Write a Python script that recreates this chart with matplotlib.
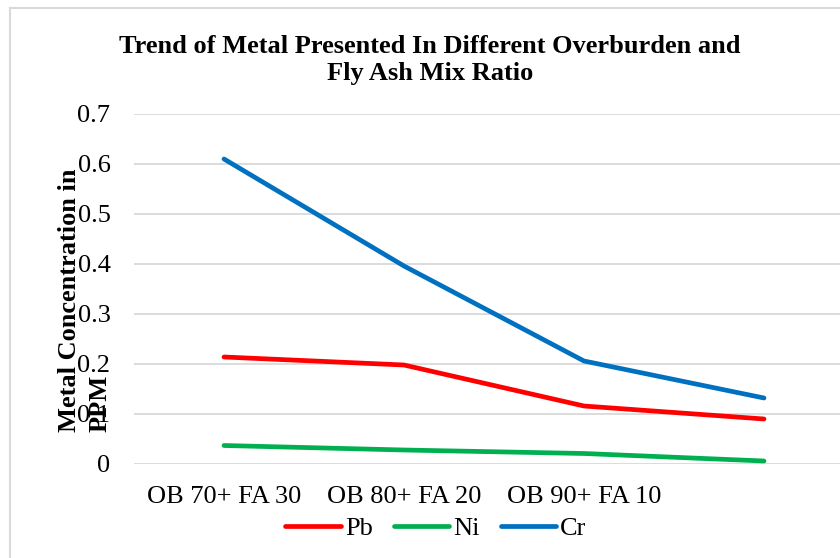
import matplotlib
matplotlib.use("Agg")
import matplotlib.pyplot as plt
from matplotlib.lines import Line2D

categories = ["OB 70+ FA 30", "OB 80+ FA 20", "OB 90+ FA 10", ""]
pb = [0.214, 0.198, 0.116, 0.090]
ni = [0.037, 0.028, 0.021, 0.006]
cr = [0.610, 0.396, 0.206, 0.132]
yticks = [0, 0.1, 0.2, 0.3, 0.4, 0.5, 0.6, 0.7]
ytick_labels = ["0", "0.1", "0.2", "0.3", "0.4", "0.5", "0.6", "0.7"]

plt.rcParams['font.family'] = ['Liberation Serif', 'DejaVu Serif']

W, H = 840, 558
fig = plt.figure(figsize=(W / 100, H / 100), dpi=100)
fig.patch.set_facecolor("white")

# chart frame (left and top visible)
fig.add_artist(Line2D([9.5 / W, 9.5 / W], [0, 1 - 7.5 / H], color="#D9D9D9", lw=1.5, transform=fig.transFigure))
fig.add_artist(Line2D([9.5 / W, 1], [1 - 7.5 / H, 1 - 7.5 / H], color="#D9D9D9", lw=1.5, transform=fig.transFigure))

ax = fig.add_axes([134 / W, (H - 464) / H, 720 / W, 350 / H])
x = list(range(len(categories)))
colors = {"Pb": "#FF0000", "Ni": "#00B050", "Cr": "#0070C0"}
for name, vals in (("Pb", pb), ("Ni", ni), ("Cr", cr)):
    ax.plot(x, vals, color=colors[name], lw=3.4, solid_capstyle="round", solid_joinstyle="round", label=name)

ax.set_xlim(-0.5, 3.5)
ax.set_ylim(0, 0.7)
ax.set_yticks(yticks)
ax.set_yticklabels(ytick_labels)
ax.set_xticks(x)
ax.set_xticklabels(categories)
ax.grid(axis="y", color="#D9D9D9", lw=1.3)
ax.set_axisbelow(True)
for s in ax.spines.values():
    s.set_visible(False)
ax.tick_params(axis="both", length=0, labelsize=19, colors="black")
ax.tick_params(axis="y", pad=17)
ax.tick_params(axis="x", pad=16)

fig.text(430 / W, 1 - 60 / H, "Trend of Metal Presented In Different Overburden and\nFly Ash Mix Ratio",
         ha="center", va="center", fontsize=19, fontweight="bold", linespacing=1.25)

fig.text(85 / W, 1 - 300 / H, "Metal Concentration in\nPPM", rotation=90, ha="center", va="center",
         multialignment="left", fontsize=19, fontweight="bold", linespacing=1.45)

fig.legend(loc="center", bbox_to_anchor=(436 / W, 1 - 528 / H), ncol=3, frameon=False, fontsize=19,
           handlelength=2.1, handletextpad=0.15, columnspacing=0.8)

fig.savefig("out.png", dpi=100)
